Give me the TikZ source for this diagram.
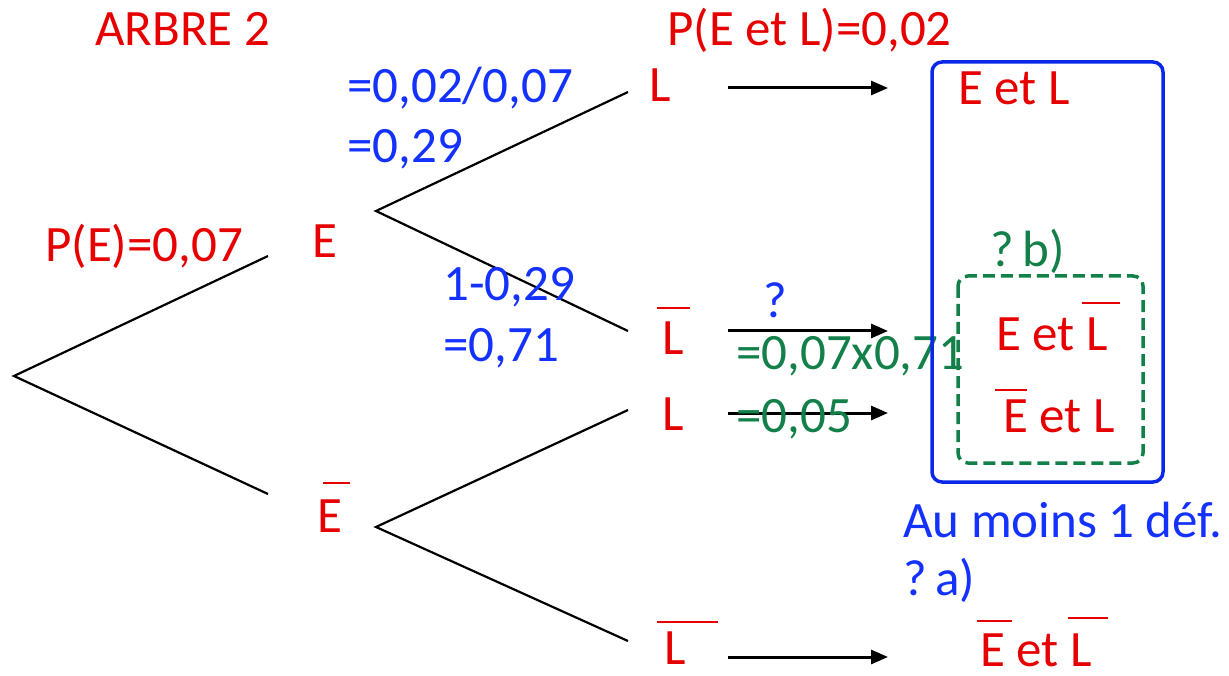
\documentclass[tikz,border=0pt]{standalone}
\usepackage{fontspec}
\setmainfont{Carlito}
\usetikzlibrary{arrows.meta}
\definecolor{cred}{RGB}{230,0,0}
\definecolor{cblue}{RGB}{20,50,255}
\definecolor{cgreen}{RGB}{18,128,72}
\definecolor{cbox}{RGB}{10,40,230}
\begin{document}
\begin{tikzpicture}[x=1pt,y=-1pt,
  txt/.style={inner sep=0pt,anchor=base west,font=\fontsize{51}{60}\selectfont},
  rtxt/.style={txt,text=cred},
  btxt/.style={txt,text=cblue},
  gtxt/.style={txt,text=cgreen},
  branch/.style={line width=2.2pt,black},
  arr/.style={line width=3pt,-{Triangle[length=17pt,width=14pt]}},
  bar/.style={line width=2pt,cred}]
\useasboundingbox (0,0) rectangle (1229,676);
% tree points
\coordinate (root) at (14,376);
\coordinate (aE) at (268,256);
\coordinate (aEb) at (268,494);
\coordinate (sE) at (376,211);
\coordinate (sEb) at (376,527);
\coordinate (aL1) at (628,92);
\coordinate (aL2) at (628,331);
\coordinate (aL3) at (628,410);
\coordinate (aL4) at (628,641);
\draw[branch] (aE) -- (root) -- (aEb);
\draw[branch] (aL1) -- (sE) -- (aL2);
\draw[branch] (aL3) -- (sEb) -- (aL4);
% labels
\node[rtxt] (title) at (95,46) {ARBRE 2};
\node[rtxt] (pEL) at (667,46) {P(E et L)=0,02};
\node[rtxt] (pE) at (45,262) {P(E)=0,07};
\node[rtxt] (nE) at (312,258) {E};
\node[rtxt] (nEb) at (317,532) {E};
\node[rtxt] (nL1) at (649,102) {L};
\node[rtxt] (nL2) at (662,355) {L};
\node[rtxt] (nL3) at (662,430) {L};
\node[rtxt] (nL4) at (664,664) {L};
\draw[bar] (323,483) -- (350,483);
\draw[bar] (657,308) -- (690,308);
\draw[bar] (657,622) -- (718,622);
\node[btxt] (q1a) at (347,103) {=0,02/0,07};
\node[btxt] (q1b) at (347,163) {=0,29};
\node[btxt] (q2a) at (443,301) {1-0,29};
\node[btxt] (q2b) at (443,362) {=0,71};
% arrows
\coordinate (t1) at (728,88); \coordinate (h1) at (888,88);
\coordinate (t2) at (728,331); \coordinate (h2) at (888,331);
\coordinate (t3) at (728,413); \coordinate (h3) at (888,413);
\coordinate (t4) at (728,657); \coordinate (h4) at (888,657);
\draw[arr] (t1) -- (h1);
\draw[arr] (t2) -- (h2);
\draw[arr] (t3) -- (h3);
\draw[arr] (t4) -- (h4);
\node[btxt] (qm) at (763,318) {?};
\node[gtxt] (g1) at (736,370) {=0,07x0,71};
\node[gtxt] (g2) at (736,432) {=0,05};
% boxes
\draw[cbox,line width=3.5pt,rounded corners=10pt] (932,62) rectangle (1163,482);
\draw[cgreen,line width=3.5pt,dash pattern=on 12pt off 6pt,rounded corners=10pt] (958,276) rectangle (1143,463);
\node[rtxt] (r1) at (958,105) {E et L};
\node[gtxt] (qb) at (990,267) {?\,b)};
\node[rtxt] (r2) at (996,350) {E et L};
\draw[bar] (1082,303) -- (1120,303);
\node[rtxt] (r3) at (1003,432) {E et L};
\draw[bar] (995,390) -- (1027,390);
\node[btxt] (am) at (903,537) {Au moins 1 déf.};
\node[btxt] (qa) at (903,595) {?\,a)};
\node[rtxt] (r4) at (980,666) {E et L};
\draw[bar] (977,621) -- (1012,621);
\draw[bar] (1068,618) -- (1108,618);
\end{tikzpicture}
\end{document}
